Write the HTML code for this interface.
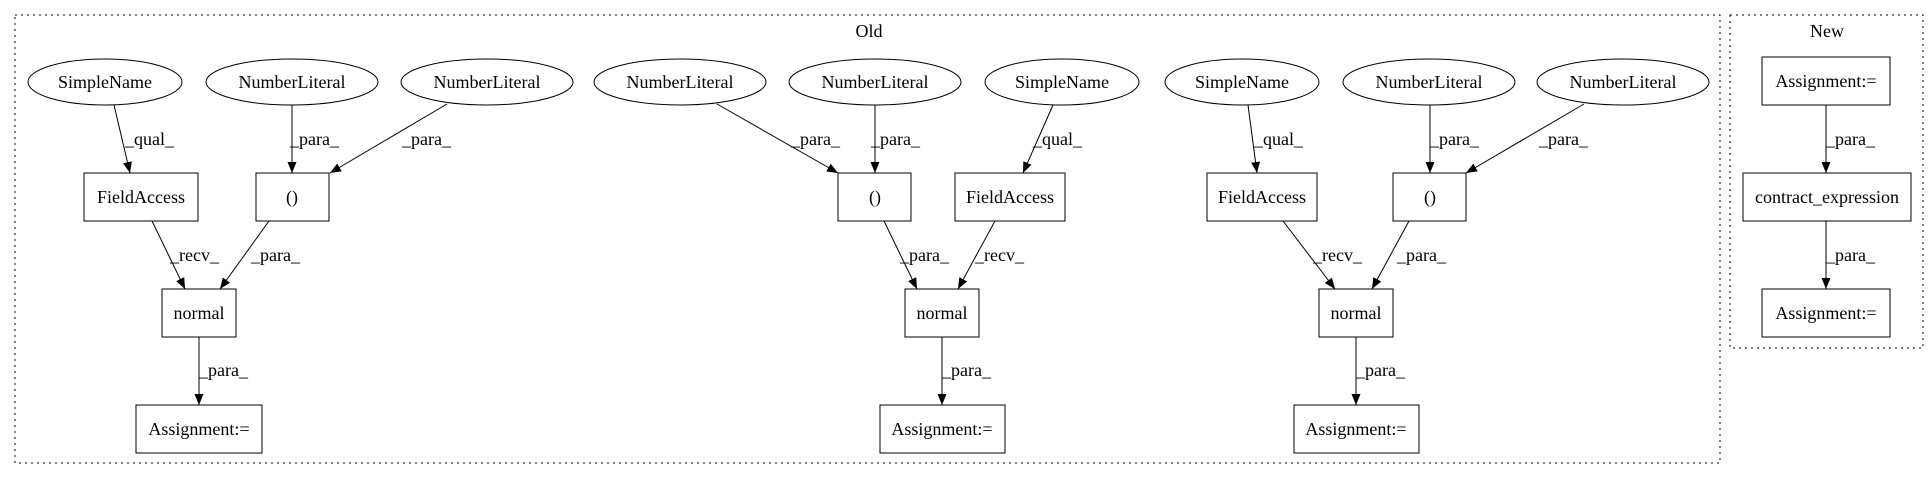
<!DOCTYPE html>
<html><head><meta charset="utf-8"><style>
html,body{margin:0;padding:0;background:#fff;}
svg{display:block;}
text{font-family:"Liberation Serif",serif;font-size:18px;fill:#000;}
</style></head><body>
<svg width="1928" height="480" viewBox="0 0 1928 480" xmlns="http://www.w3.org/2000/svg">
<defs>
<marker id="a" markerUnits="userSpaceOnUse" markerWidth="12" markerHeight="10" refX="11" refY="4.5" orient="auto">
<path d="M0,0 L11,4.5 L0,9 z" fill="#000"/>
</marker>
</defs>
<rect x="15" y="15" width="1705" height="448" fill="none" stroke="#000" stroke-dasharray="2,4"/>
<rect x="1730" y="15" width="193" height="333" fill="none" stroke="#000" stroke-dasharray="2,4"/>
<text x="869" y="37" text-anchor="middle">Old</text>
<text x="1827" y="37" text-anchor="middle">New</text>

<g fill="none" stroke="#000">
<ellipse cx="105" cy="82" rx="77" ry="23"/>
<ellipse cx="292" cy="82" rx="86" ry="23"/>
<ellipse cx="487" cy="82" rx="86" ry="23"/>
<ellipse cx="680" cy="82" rx="86" ry="23"/>
<ellipse cx="875" cy="82" rx="86" ry="23"/>
<ellipse cx="1062" cy="82" rx="77" ry="23"/>
<ellipse cx="1242" cy="82" rx="77" ry="23"/>
<ellipse cx="1429" cy="82" rx="86" ry="23"/>
<ellipse cx="1623" cy="82" rx="86" ry="23"/>

<rect x="84" y="173" width="114" height="48"/>
<rect x="256" y="173" width="73" height="48"/>
<rect x="838" y="173" width="73" height="48"/>
<rect x="955" y="173" width="110" height="48"/>
<rect x="1207" y="173" width="110" height="48"/>
<rect x="1393" y="173" width="73" height="48"/>

<rect x="162" y="289" width="74" height="48"/>
<rect x="905" y="289" width="74" height="48"/>
<rect x="1319" y="289" width="74" height="48"/>

<rect x="136" y="405" width="126" height="48"/>
<rect x="880" y="405" width="125" height="48"/>
<rect x="1294" y="405" width="125" height="48"/>

<rect x="1762" y="57" width="128" height="48"/>
<rect x="1743" y="173" width="168" height="48"/>
<rect x="1762" y="289" width="128" height="48"/>
</g>

<g stroke="#000" marker-end="url(#a)">
<line x1="114" y1="105" x2="130" y2="173"/>
<line x1="292" y1="105" x2="292" y2="173"/>
<line x1="447" y1="104" x2="330" y2="173"/>
<line x1="717" y1="104" x2="838" y2="173"/>
<line x1="875" y1="105" x2="875" y2="173"/>
<line x1="1053" y1="105" x2="1023" y2="173"/>
<line x1="1248" y1="105" x2="1257" y2="173"/>
<line x1="1430" y1="105" x2="1430" y2="173"/>
<line x1="1584" y1="104" x2="1466" y2="173"/>

<line x1="152" y1="221" x2="185" y2="289"/>
<line x1="269" y1="221" x2="220" y2="289"/>
<line x1="884" y1="221" x2="917" y2="289"/>
<line x1="995" y1="221" x2="958" y2="289"/>
<line x1="1283" y1="221" x2="1335" y2="289"/>
<line x1="1409" y1="221" x2="1372" y2="289"/>

<line x1="199" y1="337" x2="199" y2="405"/>
<line x1="942" y1="337" x2="942" y2="405"/>
<line x1="1356" y1="337" x2="1356" y2="405"/>

<line x1="1826" y1="105" x2="1826" y2="173"/>
<line x1="1826" y1="221" x2="1826" y2="289"/>
</g>

<g text-anchor="middle">
<text x="105" y="88">SimpleName</text>
<text x="292" y="88">NumberLiteral</text>
<text x="487" y="88">NumberLiteral</text>
<text x="680" y="88">NumberLiteral</text>
<text x="875" y="88">NumberLiteral</text>
<text x="1062" y="88">SimpleName</text>
<text x="1242" y="88">SimpleName</text>
<text x="1429" y="88">NumberLiteral</text>
<text x="1623" y="88">NumberLiteral</text>

<text x="141" y="203">FieldAccess</text>
<text x="292" y="203">()</text>
<text x="875" y="203">()</text>
<text x="1010" y="203">FieldAccess</text>
<text x="1262" y="203">FieldAccess</text>
<text x="1430" y="203">()</text>

<text x="199" y="319">normal</text>
<text x="942" y="319">normal</text>
<text x="1356" y="319">normal</text>

<text x="199" y="435">Assignment:=</text>
<text x="942" y="435">Assignment:=</text>
<text x="1356" y="435">Assignment:=</text>

<text x="1826" y="87">Assignment:=</text>
<text x="1827" y="203">contract_expression</text>
<text x="1826" y="319">Assignment:=</text>
</g>

<g>
<text x="125" y="145">_qual_</text>
<text x="290" y="145">_para_</text>
<text x="402" y="145">_para_</text>
<text x="791" y="145">_para_</text>
<text x="871" y="145">_para_</text>
<text x="1033" y="145">_qual_</text>
<text x="1254" y="145">_qual_</text>
<text x="1430" y="145">_para_</text>
<text x="1539" y="145">_para_</text>

<text x="170" y="261">_recv_</text>
<text x="251" y="261">_para_</text>
<text x="900" y="261">_para_</text>
<text x="975" y="261">_recv_</text>
<text x="1313" y="261">_recv_</text>
<text x="1397" y="261">_para_</text>

<text x="199" y="376">_para_</text>
<text x="942" y="376">_para_</text>
<text x="1356" y="376">_para_</text>

<text x="1826" y="145">_para_</text>
<text x="1826" y="261">_para_</text>
</g>
</svg>
</body></html>
